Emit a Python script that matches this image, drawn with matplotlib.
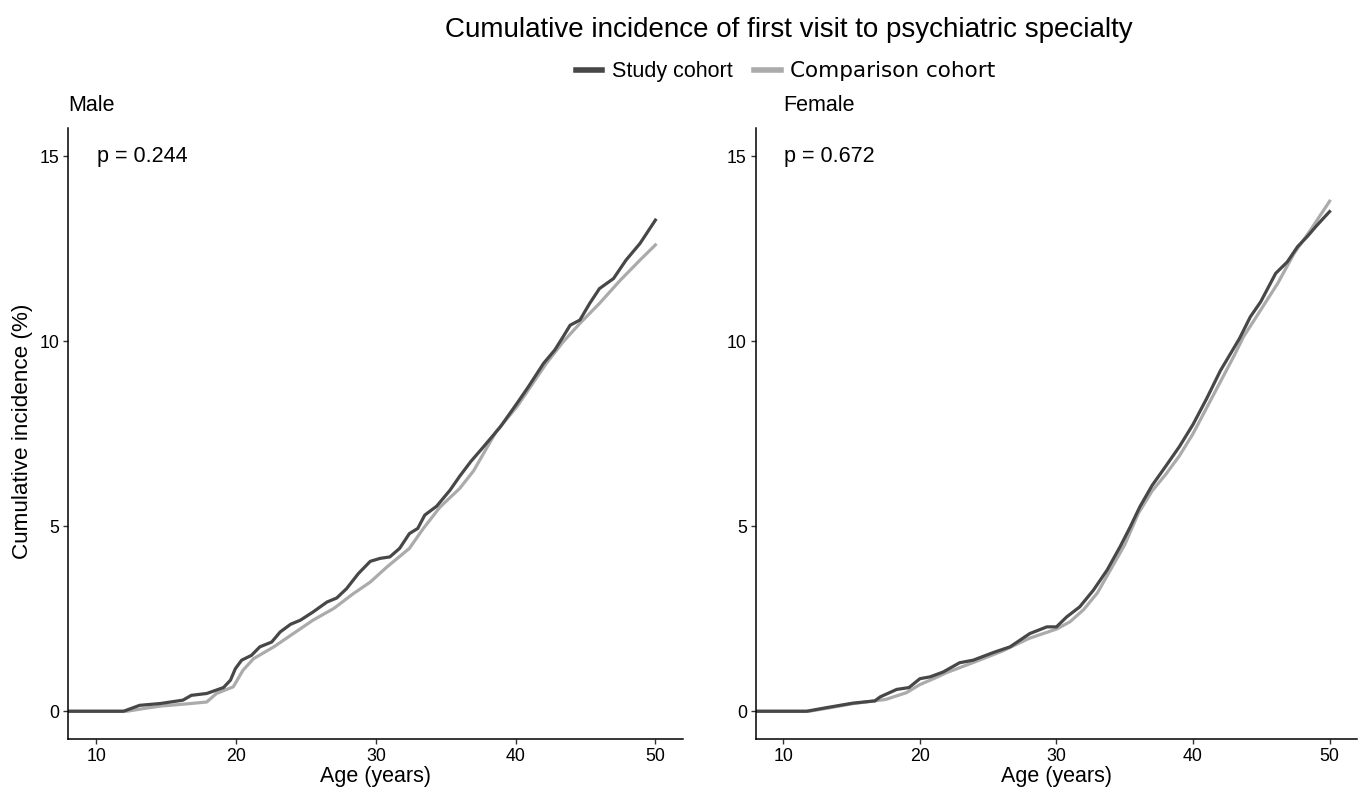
import matplotlib
matplotlib.use("Agg")
import matplotlib.pyplot as plt
from matplotlib.lines import Line2D

plt.rcParams['font.family'] = ['Liberation Sans', 'DejaVu Sans']

# ages (years) and cumulative incidence (%)
male_age_study = [8, 11.95, 13.1, 14.6, 16.2, 16.8, 17.9, 19.1, 19.6, 19.95, 20.4, 21.1, 21.7, 22.55,
                  23.15, 23.9, 24.6, 25.5, 26.5, 27.2, 27.9, 28.75, 29.6, 30.3, 31.0, 31.7, 32.4, 33.0,
                  33.5, 34.35, 35.3, 36.0, 36.8, 37.6, 38.9, 40.1, 40.9, 42.0, 42.8, 43.4, 43.9, 44.6,
                  45.3, 46.0, 47.0, 47.9, 48.9, 50.0]
male_study = [0, 0, 0.16, 0.21, 0.30, 0.43, 0.48, 0.64, 0.84, 1.15, 1.38, 1.51, 1.74, 1.87,
              2.14, 2.35, 2.46, 2.68, 2.95, 3.06, 3.31, 3.72, 4.05, 4.13, 4.17, 4.40, 4.80, 4.94,
              5.30, 5.54, 5.97, 6.35, 6.75, 7.10, 7.68, 8.32, 8.76, 9.40, 9.76, 10.12, 10.43, 10.57,
              11.02, 11.42, 11.69, 12.19, 12.64, 13.27]

male_age_comp = [8, 12.2, 13.5, 14.6, 16.5, 17.9, 18.6, 19.8, 20.5, 21.25, 22.7, 24.1, 25.5, 27.0,
                 28.4, 29.6, 30.8, 32.4, 33.4, 34.6, 36.0, 37.0, 38.6, 40.1, 42.2, 43.4, 44.6, 46.0,
                 47.5, 48.9, 50.0]
male_comp = [0, 0, 0.08, 0.14, 0.20, 0.25, 0.48, 0.66, 1.11, 1.42, 1.74, 2.10, 2.46, 2.78,
             3.18, 3.49, 3.90, 4.40, 4.94, 5.52, 6.02, 6.50, 7.55, 8.23, 9.40, 9.98, 10.48, 11.02,
             11.65, 12.19, 12.60]

female_age_study = [8, 11.7, 13.2, 15.1, 16.7, 17.1, 18.3, 19.2, 20.0, 20.75, 21.7, 22.9, 23.9, 25.4,
                    26.6, 28.05, 29.3, 30.0, 30.75, 31.7, 32.7, 33.7, 34.65, 35.4, 36.1, 37.0, 38.0,
                    39.0, 40.0, 41.0, 42.0, 43.4, 44.2, 44.95, 46.05, 46.9, 47.65, 48.35, 49.1, 50.0]
female_study = [0, 0, 0.10, 0.22, 0.28, 0.39, 0.59, 0.64, 0.88, 0.93, 1.06, 1.31, 1.38, 1.59,
                1.74, 2.10, 2.28, 2.28, 2.55, 2.82, 3.27, 3.81, 4.44, 4.98, 5.52, 6.10, 6.62,
                7.15, 7.75, 8.45, 9.20, 10.07, 10.66, 11.06, 11.83, 12.14, 12.55, 12.82, 13.14, 13.50]

female_age_comp = [8, 11.9, 13.5, 15.0, 17.5, 19.0, 20.0, 21.0, 22.0, 24.0, 26.0, 28.0, 30.0, 31.0,
                   32.0, 33.0, 34.0, 35.0, 36.0, 37.0, 38.0, 39.0, 40.0, 41.0, 42.0, 43.0, 43.7,
                   44.95, 46.2, 47.4, 48.6, 50.0]
female_comp = [0, 0, 0.10, 0.20, 0.32, 0.50, 0.72, 0.88, 1.05, 1.33, 1.62, 1.97, 2.22, 2.42,
               2.75, 3.20, 3.85, 4.50, 5.35, 5.95, 6.40, 6.90, 7.50, 8.20, 8.90, 9.60, 10.12,
               10.84, 11.56, 12.37, 13.00, 13.78]

panels = ['Male', 'Female']
p_values = ['p = 0.244', 'p = 0.672']
x_ticks = [10, 20, 30, 40, 50]
y_ticks = [0, 5, 10, 15]

dark = '#474747'
light = '#ababab'

fig = plt.figure(figsize=(13.61, 7.92), dpi=100)
ax1 = fig.add_axes([0.0502, 0.0669, 0.4519, 0.7711])
ax2 = fig.add_axes([0.5555, 0.0669, 0.4415, 0.7711])

data = [(male_age_study, male_study, male_age_comp, male_comp),
        (female_age_study, female_study, female_age_comp, female_comp)]

for i, ax in enumerate([ax1, ax2]):
    xs, ys, xc, yc = data[i]
    ax.plot(xc, yc, color=light, lw=2.3, solid_joinstyle='round')
    ax.plot(xs, ys, color=dark, lw=2.3, solid_joinstyle='round')
    ax.set_xlim(8, 52)
    ax.set_ylim(-0.75, 15.75)
    ax.set_xticks(x_ticks)
    ax.set_yticks(y_ticks)
    for s in ['top', 'right']:
        ax.spines[s].set_visible(False)
    for s in ['left', 'bottom']:
        ax.spines[s].set_linewidth(1.1)
        ax.spines[s].set_color('black')
    ax.tick_params(axis='both', length=3.6, width=1.0, color='#333333',
                   labelsize=12.8, labelcolor='black', pad=3)
    ax.set_xlabel('Age (years)', fontsize=15.5)
    ax.xaxis.set_label_coords(0.5, -0.0606)
    ax.xaxis.label.set_va('center')
    ax.text(10.05, 15, p_values[i], fontsize=15.5, ha='left', va='center')

ax1.text(0, 1.038, panels[0], transform=ax1.transAxes, fontsize=15.5, ha='left', va='center')
ax2.text(0.045, 1.038, panels[1], transform=ax2.transAxes, fontsize=15.5, ha='left', va='center')

ax1.set_ylabel('Cumulative incidence (%)', fontsize=16.2)
ax1.yaxis.set_label_coords(-0.0753, 0.504)
ax1.yaxis.label.set_va('center')

fig.text(0.5797, 0.9533, 'Cumulative incidence of first visit to psychiatric specialty',
         fontsize=20, ha='center', va='baseline')

handles = [Line2D([], [], color=dark, lw=4), Line2D([], [], color=light, lw=4)]
leg = fig.legend(handles, ['Study cohort', 'Comparison cohort'], loc='center',
                 bbox_to_anchor=(0.577, 0.9095), ncol=2, frameon=False, borderpad=0,
                 handlelength=1.25, handletextpad=0.42, columnspacing=1.0, fontsize=15.5)
leg.get_texts()[1].set_fontfamily('DejaVu Sans')

fig.savefig('out.png', dpi=100)
